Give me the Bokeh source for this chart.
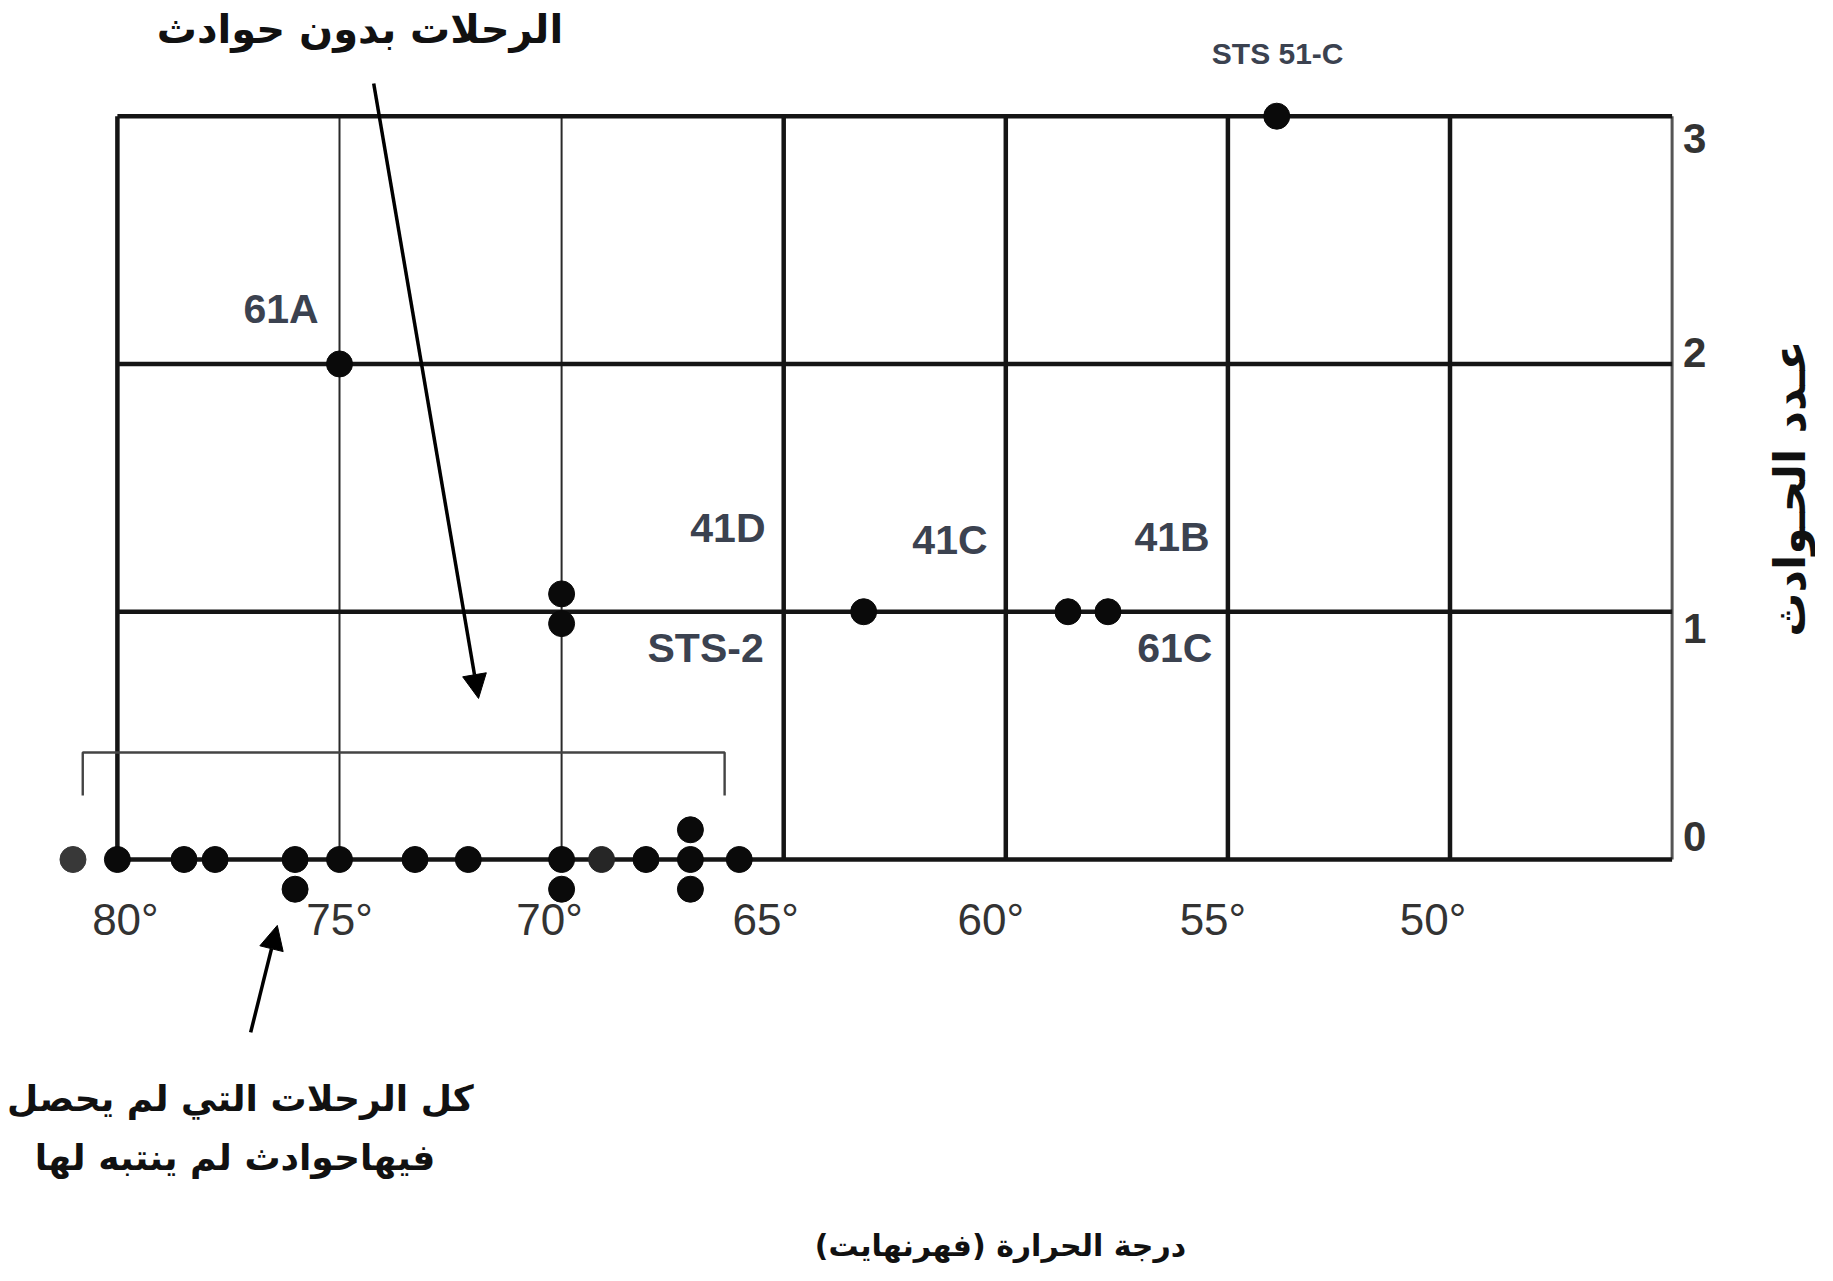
import math
from bokeh.plotting import figure
from bokeh.models import Range1d, Arrow, NormalHead, ColumnDataSource
from bokeh.core.properties import value
from bokeh.embed import file_html
from bokeh.resources import INLINE

# ---------------- data ----------------
# flights with O-ring incidents: launch temperature (F) and number of incidents
temps_incident = [53.9, 75.0, 70.0, 70.0, 63.2, 58.6, 57.7]
count_incident = [3, 2, 1, 1, 1, 1, 1]
stack_incident = [0, 0, 0.6, -0.4, 0, 0, 0]          # vertical stacking of coincident dots

# flights without incidents
temps_no_incident = [81.0, 80.0, 78.5, 77.8, 76.0, 76.0, 75.0, 73.3, 72.1,
                     70.0, 70.0, 69.1, 68.1, 67.1, 67.1, 67.1, 66.0]
count_no_incident = [0] * len(temps_no_incident)
stack_no_incident = [0, 0, 0, 0, 0, -1, 0, 0, 0, 0, -1, 0, 0, 1, 0, -1, 0]

xtick_values = [80, 75, 70, 65, 60, 55, 50]
xtick_labels = ["80°", "75°", "70°", "65°", "60°", "55°", "50°"]
ytick_values = [0, 1, 2, 3]
ytick_labels = ["0", "1", "2", "3"]

flight_names = ["STS 51-C", "61A", "41D", "41C", "41B", "STS-2", "61C"]

# ---------------- styling / layout ----------------
dot_colors_no_incident = ["#383838", "#0a0a0a", "#0a0a0a", "#0a0a0a", "#0a0a0a",
                          "#0a0a0a", "#0a0a0a", "#0a0a0a", "#0a0a0a", "#0a0a0a",
                          "#0a0a0a", "#262626", "#0a0a0a", "#0a0a0a", "#0a0a0a",
                          "#0a0a0a", "#0a0a0a"]
xtick_dx = [8, 0, -12, -18, -15, -15, -17]
ytick_dy = [-23, 17, -11, 22]

W, H = 1815, 1263
PX_PER_DEG = 44.42
X80_PX = 116.9          # canvas x of 80 F
PX_PER_UNIT = 247.77
Y0_PX = 859.0           # canvas y of 0 incidents

x_left = 80 + X80_PX / PX_PER_DEG
x_right = 80 - (W - X80_PX) / PX_PER_DEG
y_top = Y0_PX / PX_PER_UNIT
y_bottom = -(H - Y0_PX) / PX_PER_UNIT
STACK_STEP = 0.12
X_MIN, X_MAX = 45, 80      # frame extent (F)
Y_MIN, Y_MAX = 0, 3        # frame extent (incidents)

p = figure(width=W, height=H,
           x_range=Range1d(x_left, x_right), y_range=Range1d(y_bottom, y_top),
           x_axis_location=None, y_axis_location=None,
           toolbar_location=None, output_backend="svg", min_border=0,
           outline_line_color=None, background_fill_color="white",
           border_fill_color="white")
p.grid.visible = False

# chart frame and grid lines, drawn from the tick lists
thin_v = [75, 70]
thick_v = [80, 65, 60, 55, 50]
p.segment(x0=thin_v, y0=[Y_MIN] * 2, x1=thin_v, y1=[Y_MAX] * 2,
          line_color="#2a2a2a", line_width=2)
p.segment(x0=[X_MIN], y0=[Y_MIN], x1=[X_MIN], y1=[Y_MAX],
          line_color="#555555", line_width=3)
p.segment(x0=thick_v, y0=[Y_MIN] * 5, x1=thick_v, y1=[Y_MAX] * 5,
          line_color="#151515", line_width=4.5)
p.segment(x0=[X_MAX] * 4, y0=ytick_values, x1=[X_MIN] * 4, y1=ytick_values,
          line_color="#151515", line_width=4.5)

# bracket around the zero-incident flights
p.line(x=[80.78, 80.78, 66.33, 66.33], y=[0.258, 0.432, 0.432, 0.258],
       line_color="#444444", line_width=2.4)

# dots
src_inc = ColumnDataSource(dict(
    t=temps_incident,
    y=[c + s * STACK_STEP for c, s in zip(count_incident, stack_incident)]))
src_zero = ColumnDataSource(dict(
    t=temps_no_incident,
    y=[c + s * STACK_STEP for c, s in zip(count_no_incident, stack_no_incident)],
    c=dot_colors_no_incident))
p.scatter("t", "y", source=src_zero, size=26, color="c")
p.scatter("t", "y", source=src_inc, size=26, color="#0a0a0a")

# tick labels
xsrc = ColumnDataSource(dict(x=xtick_values, y=[Y_MIN] * len(xtick_values),
                             t=xtick_labels, dx=xtick_dx))
p.text(x="x", y="y", text="t", source=xsrc,
       x_offset="dx", y_offset=60, text_align="center", text_baseline="middle",
       text_font=value("Liberation Sans"),
       text_font_size="44px", text_color="#333333")
ysrc = ColumnDataSource(dict(x=[X_MIN] * 4, y=ytick_values, t=ytick_labels,
                             dy=ytick_dy))
p.text(x="x", y="y", text="t", source=ysrc, x_offset=11, y_offset="dy",
       text_align="left", text_baseline="middle",
       text_font=value("Liberation Sans"), text_font_style="bold",
       text_font_size="42px", text_color="#333333")

# flight labels
lab_src = ColumnDataSource(dict(
    x=[75.47, 65.41, 60.41, 55.41, 65.45, 55.35],
    y=[2.22, 1.336, 1.29, 1.30, 0.852, 0.852],
    t=flight_names[1:]))
p.text(x="x", y="y", text="t", source=lab_src, text_align="right",
       text_baseline="middle", text_font=value("Liberation Sans"),
       text_font_style="bold", text_font_size="41px", text_color="#3b4250")
p.text(x=[53.88], y=[3.253], text=[flight_names[0]], text_align="center",
       text_baseline="middle", text_font=value("Liberation Sans"),
       text_font_style="bold", text_font_size="30px", text_color="#3b4250")

# Arabic annotations
AR = value("DejaVu Sans")
p.text(x=[74.54], y=[3.35], text=["الرحلات بدون حوادث"], text_align="center",
       text_baseline="middle", text_font=AR, text_font_style="bold",
       text_font_size="40px", text_color="#111111")
p.text(x=[77.23, 77.35], y=[-0.965, -1.203],
       text=["كل الرحلات التي لم يحصل", "فيهاحوادث لم ينتبه لها"],
       text_align="center", text_baseline="middle", text_font=AR,
       text_font_style="bold", text_font_size="36px", text_color="#111111")
p.text(x=[60.12], y=[-1.558], text=["درجة الحرارة (فهرنهايت)"],
       text_align="center", text_baseline="middle", text_font=AR,
       text_font_style="bold", text_font_size="30px", text_color="#111111")
p.text(x=[42.36], y=[1.497], text=["عـدد الحـوادث"], angle=math.pi / 2,
       text_align="center", text_baseline="middle", text_font=AR,
       text_font_style="bold", text_font_size="44px", text_color="#111111")

# arrows
p.add_layout(Arrow(end=NormalHead(size=24, fill_color="black", line_color="black"),
                   x_start=74.23, y_start=3.132, x_end=71.87, y_end=0.65,
                   line_width=3.5, line_color="black"))
p.add_layout(Arrow(end=NormalHead(size=24, fill_color="black", line_color="black"),
                   x_start=77.0, y_start=-0.698, x_end=76.4, y_end=-0.266,
                   line_width=3.5, line_color="black"))

open("out.html", "w").write(file_html(p, INLINE))
